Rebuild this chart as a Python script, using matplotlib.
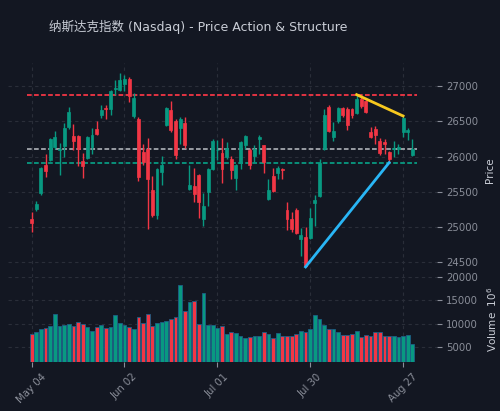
import matplotlib
matplotlib.use("Agg")
import matplotlib.pyplot as plt
from matplotlib.ticker import MultipleLocator, FixedLocator

title = "纳斯达克指数 (Nasdaq) - Price Action & Structure"

opens = [25120, 25254, 25490, 25881, 25952, 26136, 26095, 26146, 26419, 26292,
         26292, 25933, 25985, 26136, 26386, 26585, 26693, 26679, 26953, 26948,
         27024, 27104, 26575, 26537, 26065, 26113, 25523, 25178, 25782, 26443,
         26655, 26500, 26405, 26481, 25537, 25584, 25735, 25112, 25499, 25820,
         26090, 26056, 25995, 25962, 25697, 25914, 26169, 26089, 26009, 26254,
         26160, 25405, 25721, 25773, 25830, 25239, 25112, 25239, 24829, 24862,
         24848, 25348, 25442, 26103, 26703, 26278, 26500, 26693, 26679, 26679,
         26622, 26821, 26783, 26349, 26396, 26216, 26207, 26065, 26103, 26103,
         26349, 26349, 26018]
highs = [25215, 25367, 25853, 26032, 26264, 26363, 26193, 26476, 26703, 26457,
         26300, 26056, 26287, 26405, 26500, 26726, 26726, 26939, 27080, 27184,
         27160, 27127, 26901, 26561, 26179, 26264, 25726, 25839, 26004, 26703,
         26783, 26537, 26561, 26561, 25886, 25839, 25759, 25490, 25839, 26254,
         26235, 26264, 26207, 26009, 25900, 26217, 26311, 26122, 26160, 26311,
         26169, 25688, 25839, 25867, 25839, 25357, 25216, 25273, 24989, 25003,
         25273, 25461, 25971, 26670, 26736, 26490, 26700, 26707, 26703, 26690,
         26877, 26868, 26797, 26419, 26434, 26264, 26245, 26075, 26216, 26183,
         26575, 26405, 26254]
lows = [24925, 25225, 25461, 25711, 25938, 26103, 25744, 25995, 26396, 26089,
        25872, 25702, 25971, 26042, 26301, 26551, 26537, 26585, 26877, 26924,
        26924, 26773, 26547, 25650, 25877, 24980, 25145, 25121, 25603, 26434,
        26349, 25962, 26183, 26122, 25523, 25357, 25131, 25018, 25301, 25806,
        25952, 25631, 25971, 25688, 25523, 25829, 26103, 25820, 25924, 26042,
        25773, 25381, 25499, 25678, 25688, 24956, 24933, 24909, 24593, 24437,
        24838, 25018, 25428, 26089, 26349, 26217, 26470, 26556, 26372, 26540,
        26608, 26693, 26622, 26264, 26183, 26028, 26042, 25914, 25995, 26042,
        26278, 26231, 26009]
closes = [25065, 25334, 25844, 25801, 26254, 26278, 26105, 26405, 26632, 26216,
          26103, 25872, 26278, 26301, 26325, 26665, 26670, 26924, 26972, 27090,
          27104, 26854, 26830, 25711, 25924, 25678, 25169, 25820, 25886, 26688,
          26372, 26028, 26528, 26169, 25594, 25475, 25357, 25301, 25829, 26221,
          26100, 25829, 26122, 25806, 25877, 26207, 26292, 25877, 26103, 26278,
          25924, 25523, 25508, 25839, 25815, 25121, 24970, 24923, 24885, 24451,
          25136, 25381, 25914, 26594, 26358, 26358, 26690, 26590, 26443, 26585,
          26821, 26717, 26632, 26278, 26311, 26056, 26183, 25971, 26122, 26136,
          26547, 26372, 26103]
volumes = [7730, 8090, 8810, 9030, 9530, 11970, 9530, 9670, 9820, 9530,
           10250, 9820, 9240, 8520, 9240, 9600, 9100, 9170, 11900, 10180,
           9600, 9240, 8880, 11470, 10030, 12120, 9390, 10030, 10250, 10540,
           11040, 11330, 18300, 12770, 14560, 14850, 9820, 16580, 9670, 9670,
           9030, 9390, 7730, 8090, 7880, 7230, 7010, 7090, 7230, 7230,
           8240, 7800, 7010, 7950, 7300, 7440, 7230, 7660, 8520, 8160,
           8950, 11830, 11040, 9600, 8880, 8950, 8160, 7590, 7590, 7800,
           8380, 7160, 7520, 7370, 8090, 8090, 7300, 7230, 7440, 7090,
           7370, 7590, 5720]

xtick_idx = [0, 20, 40, 60, 80]
xtick_labels = ["May 04", "Jun 02", "Jul 01", "Jul 30", "Aug 27"]

resistance = 26877
support = 25914
last_close = closes[-1]
# trend lines: (bar a, bar b)
rise_from, rise_to = 59, 77   # low to low
fall_from, fall_to = 70, 80   # high to high

BG = "#131722"
UP = "#089981"
DOWN = "#f23645"
GRID = "#2a2e39"
TICK = "#8a8e99"
LABEL = "#c9cdd6"

n = len(closes)
x = list(range(n))
cols = [UP if c >= o else DOWN for o, c in zip(opens, closes)]

fig = plt.figure(figsize=(5, 4.11), dpi=100, facecolor=BG)
ax = fig.add_axes([0.015, 0.327, 0.858, 0.519], facecolor=BG)
axv = fig.add_axes([0.015, 0.119, 0.858, 0.208], facecolor=BG, sharex=ax)

# candles
ax.vlines(x, lows, highs, colors=cols, lw=1.0, zorder=3)
bottoms = [min(o, c) for o, c in zip(opens, closes)]
heights = [max(abs(c - o), 8) for o, c in zip(opens, closes)]
ax.bar(x, heights, bottom=bottoms, width=0.62, color=cols, edgecolor=cols, lw=0.5, zorder=4)

# levels
for lvl, col in [(resistance, DOWN), (last_close, "#a3a6ad"), (support, UP)]:
    ax.hlines(lvl, -1, n, colors=col, lw=1.3, linestyles=(0, (2.6, 1.3)), zorder=2)

ax.plot([rise_from, rise_to], [lows[rise_from], lows[rise_to]], color="#29b6f6", lw=2, zorder=5)
ax.plot([fall_from, fall_to], [highs[fall_from], highs[fall_to]], color="#f7c81e", lw=2, zorder=5)

pad = 0.05 * (max(highs) - min(lows))
ax.set_ylim(min(lows) - pad, max(highs) + pad)
xpad = 0.05 * (n + 1)
ax.set_xlim(-1 - xpad, n + xpad)
ax.yaxis.set_major_locator(MultipleLocator(500))

# volume
axv.bar(x, volumes, width=0.82, color=cols, edgecolor="#1d5f86", lw=0.6, zorder=3)
axv.set_ylim(0.3 * min(volumes), 1.1 * max(volumes))
axv.yaxis.set_major_locator(FixedLocator([5000, 10000, 15000, 20000]))

for a in (ax, axv):
    a.yaxis.tick_right()
    a.yaxis.set_label_position("right")
    a.grid(True, color=GRID, ls=(0, (3, 3)), lw=0.8)
    a.set_axisbelow(True)
    for s in a.spines.values():
        s.set_visible(False)
    a.tick_params(colors=TICK, labelsize=7.3, length=3.5, width=0.8)

axv.set_xticks(xtick_idx)
axv.set_xticklabels(xtick_labels, rotation=45, ha="center")
ax.tick_params(axis="x", labelbottom=False, length=0)

ax.set_ylabel("Price", color=LABEL, fontsize=7.5, labelpad=5)
axv.set_ylabel("Volume  $10^{6}$", color=LABEL, fontsize=7.5, labelpad=5)

fig.text(0.396, 0.934, title, ha="center", va="center", color=LABEL, fontsize=9,
         family=["DejaVu Sans", "Noto Sans CJK SC"])

fig.savefig("out.png", dpi=100, facecolor=BG)
